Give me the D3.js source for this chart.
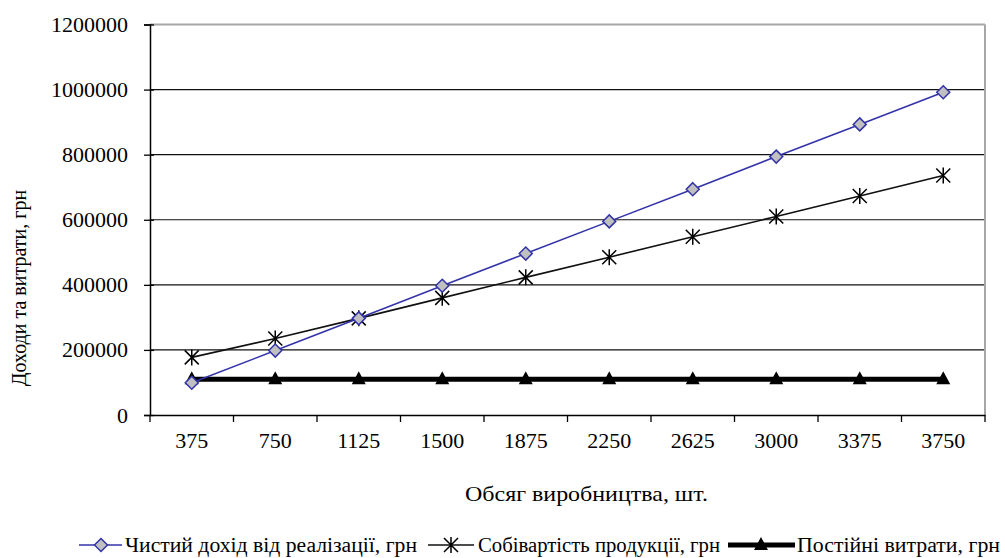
<!DOCTYPE html>
<html><head><meta charset="utf-8">
<script src="https://cdn.jsdelivr.net/npm/d3@7"></script>
<style>body{margin:0;background:#fff}svg{display:block}text{font-family:"Liberation Serif","Times New Roman",serif;fill:#000}</style>
</head><body>
<svg id="c" width="1005" height="558"></svg>
<script>
const categories = ["375","750","1125","1500","1875","2250","2625","3000","3375","3750"];
const revenue = [99000,198000,297000,397000,496000,595000,694000,794000,893000,992000];
const cost = [177000,235000,297000,360000,423000,485000,548000,610000,673000,736000];
const fixedCost = [110000,110000,110000,110000,110000,110000,110000,110000,110000,110000];
const yTicks = [0,200000,400000,600000,800000,1000000,1200000];
const seriesNames = ["Чистий дохід від реалізації, грн","Собівартість продукції, грн","Постійні витрати, грн"];
const yTitle = "Доходи та витрати, грн";
const xTitle = "Обсяг виробництва, шт.";

const svg = d3.select("#c");
const L=150, R=985, T=24.5, B=415;
const x = d3.scaleBand().domain(categories).range([L,R]);
const y = d3.scaleLinear().domain([0,1200000]).range([B,T]);
const cx = d => x(d)+x.bandwidth()/2;

// gridlines
svg.append("g").selectAll("line").data(yTicks.filter(v=>v>0 && v<1200000)).join("line")
  .attr("x1",L).attr("x2",R).attr("y1",d=>y(d)).attr("y2",d=>y(d))
  .attr("stroke","#111").attr("stroke-width",1.2);
// top and right border
svg.append("line").attr("x1",L).attr("x2",R).attr("y1",T).attr("y2",T).attr("stroke","#a6a6a6").attr("stroke-width",2);
svg.append("line").attr("x1",R).attr("x2",R).attr("y1",T).attr("y2",B).attr("stroke","#a6a6a6").attr("stroke-width",2);

// y axis
const ya = svg.append("g").attr("transform",`translate(${L},0)`)
  .call(d3.axisLeft(y).tickValues(yTicks).tickSize(6).tickPadding(16).tickFormat(d3.format("d")));
ya.select(".domain").attr("stroke","#000").attr("stroke-width",1.5);
ya.selectAll(".tick line").attr("stroke","#000").attr("stroke-width",1.3).attr("x2",-6).attr("x1",4);
ya.selectAll(".tick text").attr("font-size",22).attr("font-family","Liberation Serif").attr("fill","#000");

// x axis
const xa = svg.append("g").attr("transform",`translate(0,${B})`)
  .call(d3.axisBottom(x).tickSize(0).tickPadding(17));
xa.select(".domain").attr("stroke","#000").attr("stroke-width",1.5);
xa.selectAll(".tick text").attr("font-size",22).attr("font-family","Liberation Serif").attr("fill","#000");
xa.append("g").selectAll("line").data(d3.range(categories.length+1)).join("line")
  .attr("x1",i=>L+i*x.bandwidth()).attr("x2",i=>L+i*x.bandwidth()).attr("y1",0).attr("y2",7)
  .attr("stroke","#000").attr("stroke-width",1.3);

// titles
svg.append("text").attr("x",465).attr("y",501).attr("font-size",21).attr("textLength",243).attr("lengthAdjust","spacingAndGlyphs").text(xTitle);
svg.append("text").attr("transform","translate(26,288) rotate(-90)").attr("text-anchor","middle").attr("font-size",20).text(yTitle);

const line = d3.line().x((d,i)=>cx(categories[i])).y(d=>y(d));

// marker helpers
function diamond(g,px,py){ g.append("path").attr("d",`M${px},${py-6.5}L${px+6.5},${py}L${px},${py+6.5}L${px-6.5},${py}Z`).attr("fill","#c0c0c0").attr("stroke","#3333aa").attr("stroke-width",1.5);}
function star(g,px,py){ const s=7; g.append("path").attr("d",`M${px-s},${py-s}L${px+s},${py+s}M${px-s},${py+s}L${px+s},${py-s}M${px},${py-s-1}L${px},${py+s+1}`).attr("stroke","#000").attr("stroke-width",1.5).attr("fill","none");}
function tri(g,px,py){ g.append("path").attr("d",`M${px},${py-8}L${px+7},${py+5}L${px-7},${py+5}Z`).attr("fill","#000");}

// fixed cost
svg.append("path").datum(fixedCost).attr("d",line).attr("fill","none").attr("stroke","#000").attr("stroke-width",5);
const gF = svg.append("g"); fixedCost.forEach((v,i)=>tri(gF,cx(categories[i]),y(v)));
// cost
svg.append("path").datum(cost).attr("d",line).attr("fill","none").attr("stroke","#111").attr("stroke-width",1.6);
const gC = svg.append("g"); cost.forEach((v,i)=>star(gC,cx(categories[i]),y(v)));
// revenue
svg.append("path").datum(revenue).attr("d",line).attr("fill","none").attr("stroke","#3333aa").attr("stroke-width",1.6);
const gR = svg.append("g"); revenue.forEach((v,i)=>diamond(gR,cx(categories[i]),y(v)));

// legend
const ly = 545;
const lg = svg.append("g");
lg.append("line").attr("x1",79).attr("x2",122).attr("y1",ly).attr("y2",ly).attr("stroke","#3333aa").attr("stroke-width",1.6);
diamond(lg,101,ly);
lg.append("text").attr("x",125).attr("y",ly+7).attr("font-size",20).attr("textLength",292).attr("lengthAdjust","spacingAndGlyphs").text(seriesNames[0]);
lg.append("line").attr("x1",428).attr("x2",474).attr("y1",ly).attr("y2",ly).attr("stroke","#111").attr("stroke-width",1.6);
star(lg,451,ly);
lg.append("text").attr("x",478).attr("y",ly+7).attr("font-size",20).attr("textLength",242).attr("lengthAdjust","spacingAndGlyphs").text(seriesNames[1]);
lg.append("line").attr("x1",728).attr("x2",795).attr("y1",ly).attr("y2",ly).attr("stroke","#000").attr("stroke-width",5);
tri(lg,761,ly);
lg.append("text").attr("x",797).attr("y",ly+7).attr("font-size",20).attr("textLength",203).attr("lengthAdjust","spacingAndGlyphs").text(seriesNames[2]);
</script>
</body></html>
